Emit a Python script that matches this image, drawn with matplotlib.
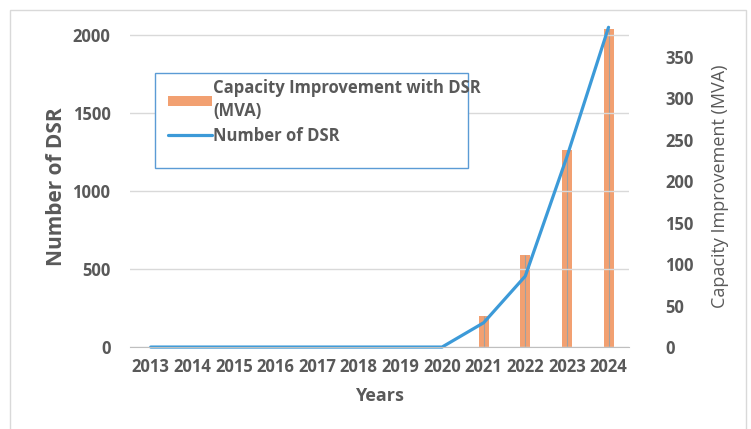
import matplotlib.pyplot as plt
import matplotlib.patches as mpatches
import numpy as np

plt.rcParams['font.family'] = ['Open Sans', 'DejaVu Sans']

years = ['2013', '2014', '2015', '2016', '2017', '2018', '2019', '2020', '2021', '2022', '2023', '2024']
num_dsr = [0, 0, 0, 0, 0, 0, 0, 0, 156, 455, 1220, 2050]
capacity = [0, 0, 0, 0, 0, 0, 0, 0, 38, 111, 238, 384]

txt = '#595959'
fig = plt.figure(figsize=(7.51, 4.29), dpi=100)
ax = fig.add_axes([0.173, 0.191, 0.665, 0.749])
ax2 = ax.twinx()

x = np.arange(len(years))
bars = ax2.bar(x, capacity, width=0.24, color='#F2A071', linewidth=0,
               label='Capacity Improvement with DSR\n(MVA)', zorder=2)
# thin grey stripe down the middle of each bar
ax2.vlines(x, 0, capacity, color='#A0A0A0', linewidth=0.8, zorder=3)
line, = ax.plot(x, num_dsr, color='#3C9AD8', linewidth=2.3, label='Number of DSR',
                solid_capstyle='round', clip_on=False)

ax.set_zorder(ax2.get_zorder() + 1)
ax.patch.set_visible(False)

ax.set_xlim(-0.5, 11.5)
ax.set_ylim(0, 2060)
ax2.set_ylim(0, 2060 * 0.1882)
ax.set_yticks([0, 500, 1000, 1500, 2000])
ax2.set_yticks([0, 50, 100, 150, 200, 250, 300, 350])
ax.set_xticks(x)
ax.set_xticklabels(years)

ax.yaxis.grid(True, color='#D9D9D9', linewidth=1)
ax.set_axisbelow(True)

for a in (ax, ax2):
    for s in ['top', 'left', 'right']:
        a.spines[s].set_visible(False)
    a.spines['bottom'].set_color('#BFBFBF')
    a.tick_params(length=0, colors=txt, labelsize=12)
    for lab in a.get_xticklabels() + a.get_yticklabels():
        lab.set_fontweight('bold')
ax2.spines['bottom'].set_visible(False)
ax.tick_params(axis='y', pad=14)
ax.tick_params(axis='x', pad=8)
ax2.tick_params(axis='y', pad=26)

ax.set_ylabel('Number of DSR', fontsize=15, fontweight='bold', color=txt, labelpad=4)
ax2.set_ylabel('Capacity Improvement (MVA)', fontsize=13, color=txt, labelpad=12)
ax.set_xlabel('Years', fontsize=13, fontweight='bold', color=txt, labelpad=8)

# legend frame drawn separately to get the tall box with empty bottom
ax.add_patch(mpatches.Rectangle((0.050, 0.557), 0.627, 0.296, transform=ax.transAxes,
                                fill=True, facecolor='white', edgecolor='#5B9BD5',
                                linewidth=1, zorder=4, clip_on=False))
leg = ax.legend([bars, line], [bars.get_label(), line.get_label()],
                loc='upper left', bbox_to_anchor=(0.05, 0.875), frameon=False,
                fontsize=12, handlelength=2.6, handleheight=0.6,
                borderpad=0.3, labelspacing=0.4, handletextpad=0.1)
leg.set_zorder(5)
for t in leg.get_texts():
    t.set_color(txt)
    t.set_fontweight('bold')
    t.set_linespacing(1.35)

fig.patches.append(mpatches.Rectangle((0.013, -0.01), 0.98, 0.987, transform=fig.transFigure,
                                      fill=False, edgecolor='#D9D9D9', linewidth=1))

fig.savefig('out.png', dpi=100)
